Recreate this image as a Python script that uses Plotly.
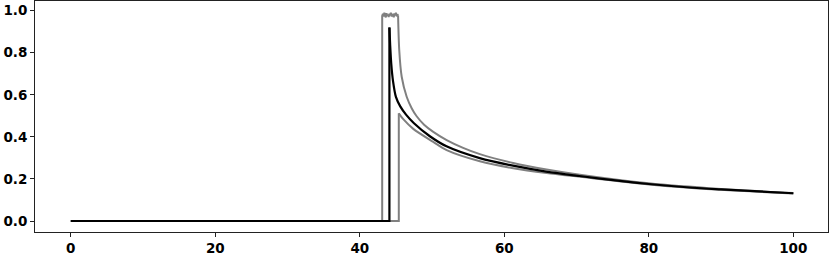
import plotly.graph_objects as go

# Grey trace A: plateau then upper decay
grey_a_x = [0, 43.1, 43.1, 43.2, 43.3, 43.4, 43.5, 43.6, 43.7, 43.8, 43.9, 44.0, 44.1, 44.2, 44.3,
            44.4, 44.5, 44.6, 44.7, 44.8, 44.9, 45.0, 45.1, 45.2, 45.3,
            45.46, 45.80, 46.49, 47.2, 47.87, 48.9, 50.17, 52.02, 54.3, 56.62, 61.23, 65.85, 70.46,
            80, 90, 100]
grey_a_y = [0, 0, 0.975, 0.985, 0.972, 0.99, 0.978, 0.968, 0.988, 0.975, 0.982, 0.97, 0.986, 0.977,
            0.99, 0.972, 0.984, 0.975, 0.969, 0.987, 0.978, 0.99, 0.973, 0.983, 0.978,
            0.813, 0.686, 0.591, 0.535, 0.498, 0.458, 0.424, 0.385, 0.348, 0.318, 0.276, 0.245, 0.220,
            0.179, 0.152, 0.133]
grey_a_split = 24  # index where the decay begins

# Grey trace B: lower decay
grey_b_x = [0, 45.4, 45.4, 46.02, 47.4, 50.17, 52.02, 56.62, 61.23, 65.85, 70.46, 80, 90, 100]
grey_b_y = [0, 0, 0.512, 0.484, 0.438, 0.376, 0.337, 0.284, 0.251, 0.228, 0.210, 0.174, 0.148, 0.131]
grey_b_split = 2

# Black trace
black_x = [0, 44.1, 44.1, 44.2, 44.35, 44.6, 45.0, 45.6, 46.4, 47.5, 49.7, 52.0, 56.6, 61.2, 65.8,
           70.4, 76.9, 80, 86.1, 90, 100]
black_y = [0, 0, 0.92, 0.84, 0.75, 0.665, 0.59, 0.545, 0.506, 0.465, 0.403, 0.355, 0.299, 0.263,
           0.235, 0.214, 0.187, 0.176, 0.158, 0.150, 0.132]
black_split = 2

x_ticks = [0, 20, 40, 60, 80, 100]
y_ticks = [0.0, 0.2, 0.4, 0.6, 0.8, 1.0]

fig = go.Figure()


def add(xs, ys, split, color, width):
    fig.add_trace(go.Scatter(x=xs[:split + 1], y=ys[:split + 1], mode="lines",
                             line=dict(color=color, width=width), showlegend=False))
    fig.add_trace(go.Scatter(x=xs[split:], y=ys[split:], mode="lines",
                             line=dict(color=color, width=width, shape="spline", smoothing=0.8),
                             showlegend=False))


add(grey_a_x, grey_a_y, grey_a_split, "#808080", 2)
add(grey_b_x, grey_b_y, grey_b_split, "#808080", 2)
add(black_x, black_y, black_split, "#000000", 2.2)

tickfont = dict(family="DejaVu Sans", size=13.5, color="black", weight="bold")
fig.update_layout(
    width=830, height=256,
    margin=dict(l=35, r=2, t=1, b=24),
    paper_bgcolor="white", plot_bgcolor="white",
    xaxis=dict(range=[-4.95, 104.8], tickvals=x_ticks, ticktext=[str(v) for v in x_ticks],
               showgrid=False, zeroline=False, showline=True, mirror=True, automargin=False,
               linecolor="#222", linewidth=1, ticks="outside", ticklen=4, tickwidth=1,
               tickcolor="#222", tickfont=tickfont),
    yaxis=dict(range=[-0.0523, 1.046], tickvals=y_ticks, ticktext=[f"{v:.1f}" for v in y_ticks],
               showgrid=False, zeroline=False, showline=True, mirror=True, automargin=False,
               linecolor="#222", linewidth=1, ticks="outside", ticklen=4, tickwidth=1,
               tickcolor="#222", tickfont=tickfont),
)
fig.write_html("out.html", config={"displayModeBar": False},
               post_script="document.body.style.margin='0';document.body.style.overflow='hidden';")
